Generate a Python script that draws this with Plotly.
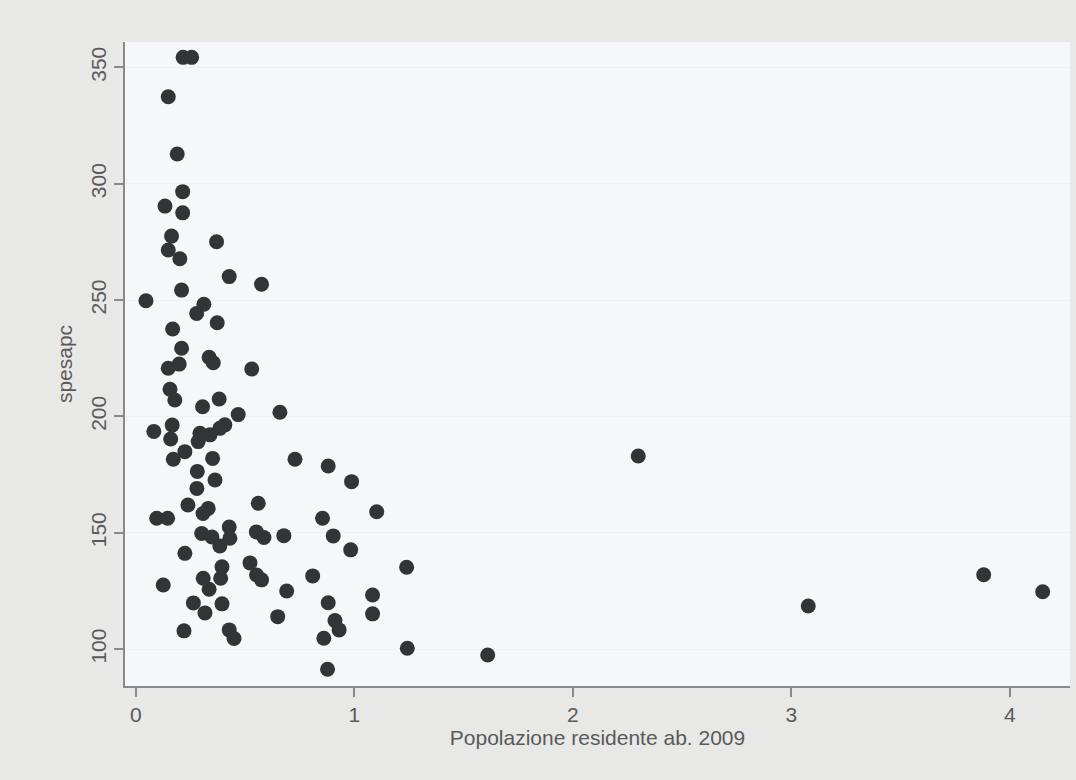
import plotly.graph_objects as go

# Popolazione residente (x) e spesa pro capite (y) per comune
popolazione = [
    0.216, 0.255, 0.148, 0.189, 0.214, 0.133, 0.214, 0.163, 0.369, 0.148,
    0.201, 0.427, 0.575, 0.209, 0.046, 0.311, 0.278, 0.372, 0.168, 0.209,
    0.335, 0.354, 0.198, 0.148, 0.530, 0.156, 0.178, 0.381, 0.305, 0.468,
    0.659, 0.166, 0.082, 0.159, 0.293, 0.285, 0.339, 0.384, 0.407, 0.224,
    0.171, 0.351, 0.728, 2.299, 0.880, 0.281, 0.362, 0.987, 0.279, 0.560,
    0.238, 0.331, 0.307, 1.102, 0.095, 0.145, 0.854, 0.427, 0.301, 0.348,
    0.430, 0.551, 0.586, 0.677, 0.903, 0.384, 0.983, 0.224, 0.394, 0.522,
    0.552, 0.575, 1.239, 0.308, 0.388, 0.335, 0.809, 0.125, 0.690, 1.083,
    0.263, 0.394, 0.880, 0.316, 0.649, 1.083, 0.911, 0.220, 0.427, 0.930,
    0.449, 0.860, 1.242, 1.610, 0.877, 3.077, 3.880, 4.150,
]
spesapc = [
    354.3, 354.3, 337.4, 312.8, 296.6, 290.4, 287.5, 277.5, 275.1, 271.5,
    267.8, 260.1, 256.8, 254.3, 249.7, 248.2, 244.3, 240.3, 237.6, 229.3,
    225.4, 223.1, 222.5, 220.7, 220.4, 211.7, 207.1, 207.5, 204.2, 200.8,
    201.8, 196.3, 193.6, 190.3, 192.8, 189.2, 192.1, 194.9, 196.4, 184.9,
    181.6, 182.0, 181.6, 183.0, 178.7, 176.4, 172.7, 172.0, 169.1, 162.7,
    162.0, 160.5, 158.3, 159.1, 156.3, 156.3, 156.3, 152.5, 149.7, 148.2,
    147.7, 150.4, 148.0, 148.8, 148.7, 144.4, 142.7, 141.2, 135.4, 137.1,
    131.9, 129.8, 135.2, 130.5, 130.5, 125.8, 131.5, 127.6, 125.0, 123.3,
    119.9, 119.5, 120.0, 115.6, 114.0, 115.2, 112.3, 107.9, 108.3, 108.3,
    104.6, 104.7, 100.4, 97.5, 91.4, 118.6, 132.0, 124.7,
]

x_ticks = [0, 1, 2, 3, 4]
y_ticks = [100, 150, 200, 250, 300, 350]

font_family = "Liberation Sans, Arial, sans-serif"
text_grey = "#5a5a5a"
axis_grey = "#8a8a8a"

fig = go.Figure(
    go.Scatter(
        x=popolazione,
        y=spesapc,
        mode="markers",
        marker=dict(size=15, color="#333436", line=dict(width=0)),
        showlegend=False,
        hoverinfo="x+y",
    )
)

fig.update_layout(
    width=1076,
    height=780,
    margin=dict(l=125, r=6, t=42, b=94),
    paper_bgcolor="#e8e8e7",
    plot_bgcolor="#f6f7f9",
    font=dict(family=font_family, color=text_grey, size=21),
)

fig.update_xaxes(
    range=[-0.050, 4.275],
    tickvals=x_ticks,
    ticktext=[str(v) for v in x_ticks],
    showgrid=False,
    zeroline=False,
    showline=True,
    linecolor=axis_grey,
    linewidth=2,
    ticks="outside",
    ticklen=9,
    tickwidth=2,
    tickcolor=axis_grey,
    tickfont=dict(size=21, color=text_grey),
    title=dict(text="Popolazione residente ab. 2009",
               font=dict(size=21, color=text_grey), standoff=4),
)

fig.update_yaxes(
    range=[84.2, 360.9],
    tickvals=y_ticks,
    ticktext=[str(v) for v in y_ticks],
    tickangle=-90,
    showgrid=True,
    gridcolor="#eef0f3",
    gridwidth=1,
    zeroline=False,
    showline=True,
    linecolor=axis_grey,
    linewidth=2,
    ticks="outside",
    ticklen=9,
    tickwidth=2,
    tickcolor=axis_grey,
    tickfont=dict(size=21, color=text_grey),
    title=dict(text="spesapc", font=dict(size=21, color=text_grey), standoff=8),
)

fig.write_html("out.html")
